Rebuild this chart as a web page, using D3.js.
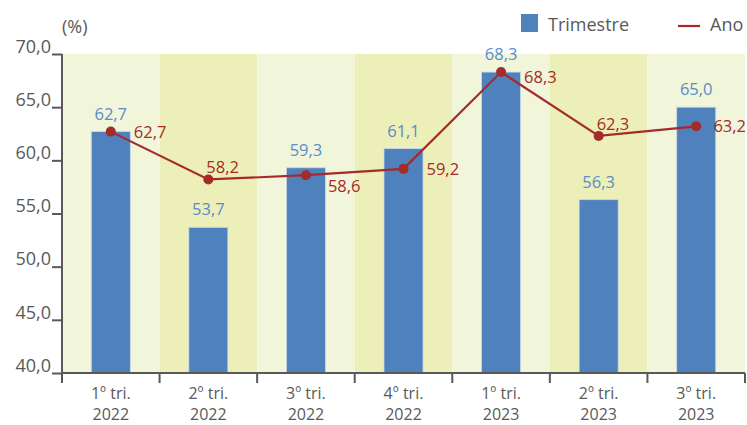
<!DOCTYPE html>
<head>
    <script src="https://d3js.org/d3.v7.min.js"></script>
    <style>
        body { margin: 0; background: #fff; }
        text { font-family: "Open Sans", sans-serif; }
    </style>
</head>
<body>
    <svg></svg>
</body>

<script>
    // Data
    var quarters = ["1º tri.", "2º tri.", "3º tri.", "4º tri.", "1º tri.", "2º tri.", "3º tri."];
    var years = ["2022", "2022", "2022", "2022", "2023", "2023", "2023"];
    var trimestre = [62.7, 53.7, 59.3, 61.1, 68.3, 56.3, 65.0];
    var ano = [62.7, 58.2, 58.6, 59.2, 68.3, 62.3, 63.2];
    var yTicks = [40, 45, 50, 55, 60, 65, 70];

    // where the red labels sit relative to their point
    var anoLabelSide = ["right", "above", "below", "right", "right", "above", "right"];

    // Variables
    var width = 747, height = 425;
    var margin = { left: 62, right: 2, top: 54, bottom: 52 };
    var fmt = function (v) { return v.toFixed(1).replace(".", ","); };
    var blue = "#4f81bd", red = "#a52a2a", grey = "#595959";

    var svg = d3.select("svg")
        .attr("width", width)
        .attr("height", height);

    var idx = d3.range(quarters.length);

    var x = d3.scaleBand()
        .domain(idx)
        .range([margin.left, width - margin.right]);

    var y = d3.scaleLinear()
        .domain([40, 70])
        .range([height - margin.bottom, margin.top]);

    var bw = x.bandwidth() * 0.4;

    // Background bands
    svg.selectAll("rect.band")
        .data(idx)
        .enter().append("rect")
        .attr("class", "band")
        .attr("x", function (d) { return x(d); })
        .attr("y", y(70))
        .attr("width", x.bandwidth())
        .attr("height", y(40) - y(70))
        .style("fill", function (d) { return d % 2 ? "#ecf0b8" : "#f1f5d9"; });

    // Bars
    svg.selectAll("rect.bar")
        .data(idx)
        .enter().append("rect")
        .attr("class", "bar")
        .attr("x", function (d) { return x(d) + x.bandwidth() / 2 - bw / 2; })
        .attr("y", function (d) { return y(trimestre[d]); })
        .attr("width", bw)
        .attr("height", function (d) { return y(40) - y(trimestre[d]); })
        .style("fill", blue)
        .style("stroke", "#c9d9ec")
        .style("stroke-width", 0.8);

    // Bar labels
    svg.selectAll("text.blab")
        .data(idx)
        .enter().append("text")
        .attr("class", "blab")
        .attr("x", function (d) { return x(d) + x.bandwidth() / 2; })
        .attr("y", function (d) { return y(trimestre[d]) - 12; })
        .attr("text-anchor", "middle")
        .style("font-size", "16.5px")
        .style("fill", "#5a8ccb")
        .text(function (d) { return fmt(trimestre[d]); });

    // Line
    var cx = function (d) { return x(d) + x.bandwidth() / 2; };
    var line = d3.line()
        .x(function (d) { return cx(d); })
        .y(function (d) { return y(ano[d]); });

    svg.append("path")
        .datum(idx)
        .attr("d", line)
        .style("fill", "none")
        .style("stroke", red)
        .style("stroke-width", 2.2);

    svg.selectAll("circle.pt")
        .data(idx)
        .enter().append("circle")
        .attr("class", "pt")
        .attr("cx", cx)
        .attr("cy", function (d) { return y(ano[d]); })
        .attr("r", 5)
        .style("fill", red);

    // Line labels
    svg.selectAll("text.alab")
        .data(idx)
        .enter().append("text")
        .attr("class", "alab")
        .attr("y", function (d) {
            var s = anoLabelSide[d];
            if (s === "above") return y(ano[d]) - 6;
            if (s === "below") return y(ano[d]) + 17;
            return y(ano[d]) + 6 + (d === 4 ? 5 : 0);
        })
        .style("font-size", "16.5px")
        .style("fill", red)
        .text(function (d) { return fmt(ano[d]); })
        .attr("x", function (d) {
            var s = anoLabelSide[d];
            if (s === "above") return cx(d) - 2;
            if (s === "below") return cx(d) + 22;
            // keep it inside the picture
            return Math.min(cx(d) + 23, width - this.getComputedTextLength() - 1);
        });

    // Y axis
    var yAxis = svg.append("g")
        .attr("transform", "translate(" + margin.left + ",0)")
        .call(d3.axisLeft(y).tickValues(yTicks).tickSize(10).tickPadding(1).tickFormat(fmt));
    yAxis.selectAll("line, path").style("stroke", grey).style("stroke-width", 2);
    yAxis.select("path").attr("d", "M0," + y(70) + "V" + y(40));
    yAxis.selectAll("text")
        .attr("dy", "-0.1em")
        .style("font-size", "18px").style("fill", grey).style("font-family", "'Open Sans', sans-serif");

    // X axis
    var xb = svg.append("g").attr("transform", "translate(0," + y(40) + ")");
    xb.append("line")
        .attr("x1", margin.left).attr("x2", width - margin.right)
        .style("stroke", grey).style("stroke-width", 2);
    xb.selectAll("line.tk")
        .data(d3.range(quarters.length + 1))
        .enter().append("line")
        .attr("class", "tk")
        .attr("x1", function (d) { return d < quarters.length ? x(d) : x(d - 1) + x.bandwidth(); })
        .attr("x2", function (d) { return d < quarters.length ? x(d) : x(d - 1) + x.bandwidth(); })
        .attr("y1", 0).attr("y2", 10)
        .style("stroke", grey).style("stroke-width", 2);
    var xl = xb.selectAll("text.xl")
        .data(idx)
        .enter().append("text")
        .attr("class", "xl")
        .attr("text-anchor", "middle")
        .style("font-size", "16px")
        .style("fill", grey);
    xl.append("tspan")
        .attr("x", cx).attr("y", 26)
        .text(function (d) { return quarters[d]; });
    xl.append("tspan")
        .attr("x", cx).attr("y", 47)
        .text(function (d) { return years[d]; });

    // Unit
    svg.append("text")
        .attr("x", 62).attr("y", 33)
        .style("font-size", "18px")
        .style("fill", grey)
        .text("(%)");

    // Legend
    svg.append("rect")
        .attr("x", 521).attr("y", 14).attr("width", 17).attr("height", 18)
        .style("fill", blue);
    svg.append("text")
        .attr("x", 548).attr("y", 31)
        .style("font-size", "18px").style("fill", grey)
        .text("Trimestre");
    svg.append("line")
        .attr("x1", 678).attr("x2", 700).attr("y1", 26).attr("y2", 26)
        .style("stroke", red).style("stroke-width", 2.2);
    svg.append("text")
        .attr("x", 710).attr("y", 31)
        .style("font-size", "18px").style("fill", grey)
        .text("Ano");
</script>
